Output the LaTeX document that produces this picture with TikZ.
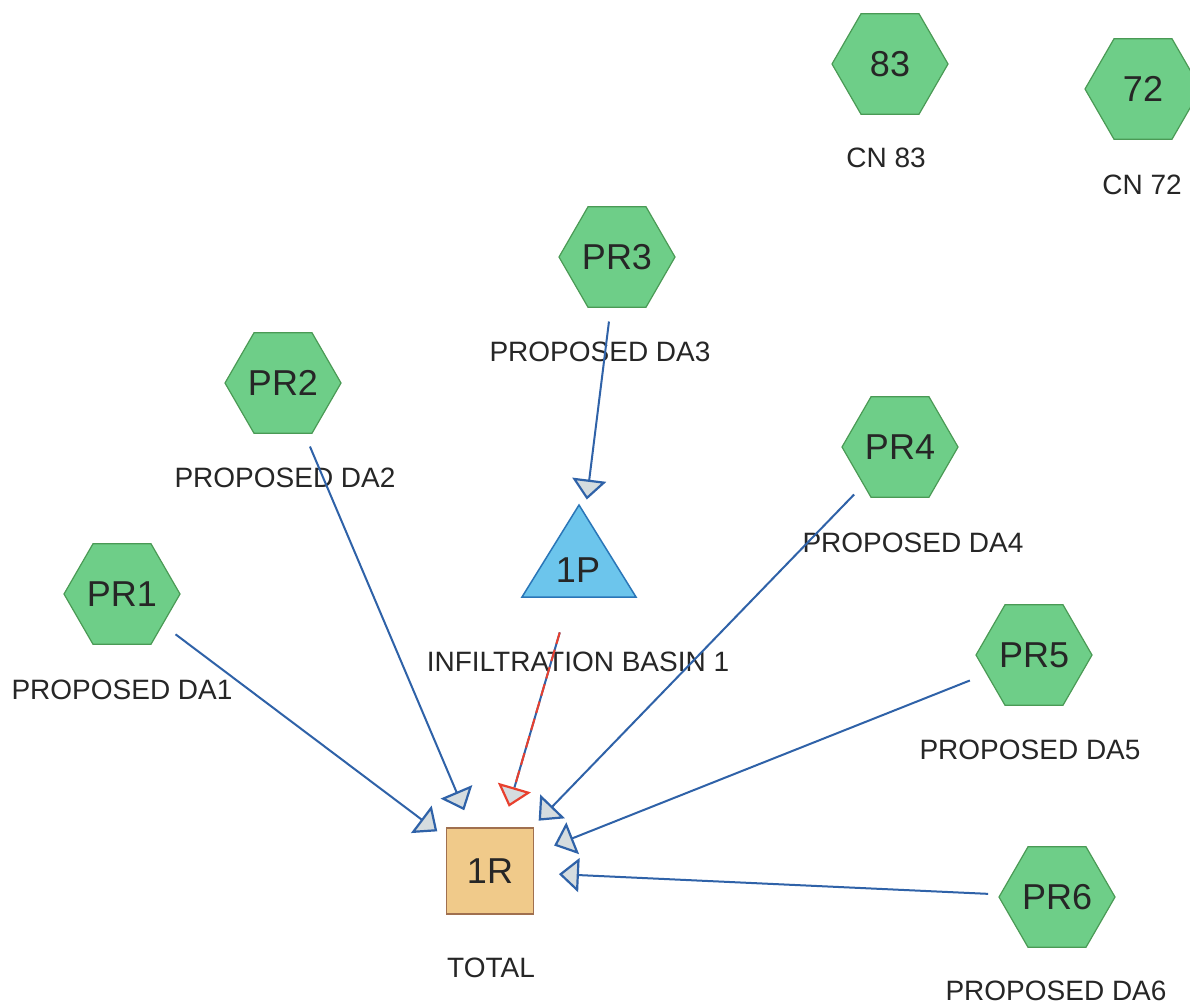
\documentclass[tikz,border=0pt]{standalone}
\usepackage{fontspec}
\setmainfont{Liberation Sans}
\usetikzlibrary{shapes.geometric,arrows.meta}
\definecolor{hexfill}{HTML}{6ECE88}
\definecolor{hexdraw}{HTML}{4A9A55}
\definecolor{trifill}{HTML}{6CC5EC}
\definecolor{tridraw}{HTML}{2A76B8}
\definecolor{boxfill}{HTML}{F0CA8A}
\definecolor{boxdraw}{HTML}{A0704F}
\definecolor{linec}{HTML}{2F62A8}
\definecolor{arrowfill}{HTML}{D5DCDF}
\definecolor{redc}{HTML}{E8402E}
\definecolor{txt}{HTML}{262626}
\tikzset{
  hexnode/.style={regular polygon, regular polygon sides=6, minimum size=116pt, inner sep=0pt,
    fill=hexfill, draw=hexdraw, line width=1.2pt, font=\fontsize{36}{40}\selectfont, text=txt},
  lbl/.style={font=\fontsize{28}{32}\selectfont, text=txt, inner sep=0pt},
  conn/.style={draw=linec, line width=2pt,
    -{Triangle[width=34pt,length=20pt,fill=arrowfill,line width=2.2pt]}},
  redconn/.style={draw=redc, line width=2pt, dash pattern=on 12pt off 6pt,
    -{Triangle[width=34pt,length=20pt,fill=arrowfill,line width=2.2pt]}},
}
\begin{document}
\begin{tikzpicture}[x=1pt,y=-1pt]
\useasboundingbox (0,0) rectangle (1190,1005);
\clip (0,0) rectangle (1190,1005);
\fill[white] (0,0) rectangle (1190,1005);

% hexagons
\node[hexnode] (PR1) at (122,594) {PR1};
\node[hexnode] (PR2) at (283,383) {PR2};
\node[hexnode] (PR3) at (617,257) {PR3};
\node[hexnode] (PR4) at (900,447) {PR4};
\node[hexnode] (PR5) at (1034,655) {PR5};
\node[hexnode] (PR6) at (1057,897) {PR6};
\node[hexnode] (H83) at (890,64) {83};
\node[hexnode] (H72) at (1143,89) {72};

% labels
\node[lbl] (L1) at (122,690) {PROPOSED DA1};
\node[lbl] (L2) at (285,478) {PROPOSED DA2};
\node[lbl] (L3) at (600,352) {PROPOSED DA3};
\node[lbl] (L4) at (913,543) {PROPOSED DA4};
\node[lbl] (L5) at (1030,750) {PROPOSED DA5};
\node[lbl] (L6) at (1056,991) {PROPOSED DA6};
\node[lbl] (L83) at (886,158) {CN 83};
\node[lbl] (L72) at (1142,185) {CN 72};
\node[lbl] (LP) at (578,662) {INFILTRATION BASIN 1};
\node[lbl] (LR) at (491,968) {TOTAL};

% pond triangle
\draw[fill=trifill, draw=tridraw, line width=1.5pt] (522,597) -- (636,597) -- (579,505) -- cycle;
\node[font=\fontsize{36}{40}\selectfont, text=txt, inner sep=0pt] (P1) at (578,570) {1P};

% reach box
\node[draw=boxdraw, fill=boxfill, line width=1.5pt, minimum width=87pt, minimum height=86pt,
  inner sep=0pt, font=\fontsize{36}{40}\selectfont, text=txt] (R1) at (490,871) {1R};

% connectors
\draw[conn, shorten <=67pt, shorten >=66pt] (PR1.center) -- (R1.center);
\draw[conn, shorten <=69pt, shorten >=66pt] (PR2.center) -- (R1.center);
\draw[conn, shorten <=65pt, shorten >=71pt] (PR3.center) -- (P1.center);
\draw[conn, shorten <=66pt, shorten >=70pt] (PR4.center) -- (R1.center);
\draw[conn, shorten <=69pt, shorten >=69pt] (PR5.center) -- (R1.center);
\draw[conn, shorten <=69pt, shorten >=69pt] (PR6.center) -- (R1.center);
\draw[linec, line width=2pt, shorten <=65pt, shorten >=87pt] (P1.center) -- (R1.center);
\draw[redconn, shorten <=65pt, shorten >=67pt] (P1.center) -- (R1.center);
\end{tikzpicture}
\end{document}
